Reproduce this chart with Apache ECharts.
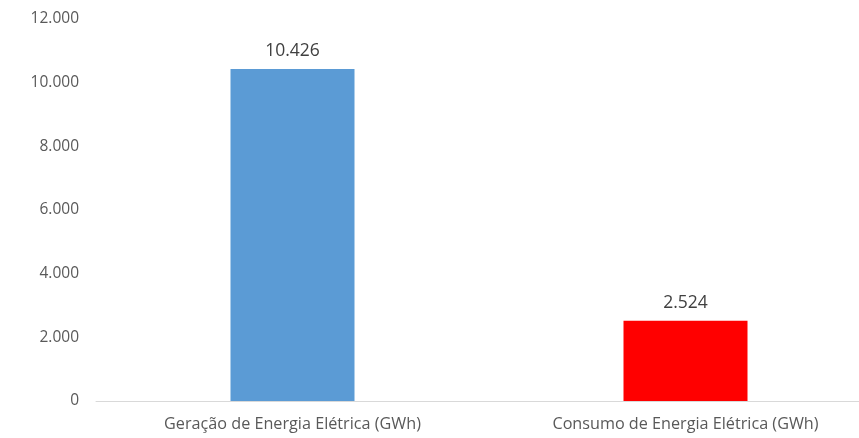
<!DOCTYPE html>
<html><head><meta charset="utf-8">
<script src="https://cdn.jsdelivr.net/npm/echarts@6/dist/echarts.min.js"></script>
<style>html,body{margin:0;padding:0;background:#fff;overflow:hidden;width:859px;height:438px}#c{width:882px;height:438px}</style>
</head><body><div id="c"></div>
<script>
const categories = ['Geração de Energia Elétrica (GWh)', 'Consumo de Energia Elétrica (GWh)'];
const values = [10426, 2524];
const colors = ['#5B9BD5', '#FF0000'];
function fmt(n){ return String(n).replace(/\B(?=(\d{3})+(?!\d))/g, '.'); }
const chart = echarts.init(document.getElementById('c'));
chart.setOption({
  animation: false,
  grid: { left: 96, top: 19, bottom: 37, right: 0 },
  xAxis: {
    type: 'category', data: categories,
    axisLine: { lineStyle: { color: '#d9d9d9', width: 1 } },
    axisTick: { show: false },
    axisLabel: { color: '#595959', fontSize: 16.2, fontFamily: 'Open Sans', margin: 15 }
  },
  yAxis: {
    type: 'value', min: 0, max: 12000, interval: 2000,
    splitLine: { show: false },
    axisLine: { show: false }, axisTick: { show: false },
    axisLabel: { color: '#595959', fontSize: 15.5, fontFamily: 'Open Sans', margin: 17, formatter: v => fmt(v) }
  },
  series: [{
    type: 'bar', barWidth: 124,
    data: values.map((v, i) => ({ value: v, itemStyle: { color: colors[i] } })),
    label: { show: true, position: 'top', distance: 9, color: '#404040', fontSize: 17.5, fontFamily: 'Open Sans', formatter: p => fmt(p.value) }
  }]
});
</script></body></html>
